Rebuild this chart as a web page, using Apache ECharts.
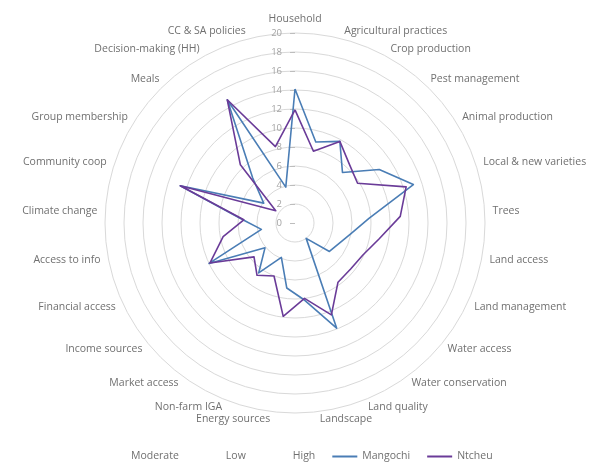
<!DOCTYPE html>
<html>
<head>
<meta charset="utf-8">
<script src="https://cdn.jsdelivr.net/npm/echarts@6/dist/echarts.min.js"></script>
<style>
  html, body { margin: 0; padding: 0; background: #ffffff; }
  #chart { width: 589px; height: 472px; }
</style>
</head>
<body>
<div id="chart"></div>
<script>
// Dimensions, listed clockwise from the top of the radar
const categories = [
  'Household', 'Agricultural practices', 'Crop production', 'Pest management',
  'Animal production', 'Local & new varieties', 'Trees', 'Land access',
  'Land management', 'Water access', 'Water conservation', 'Land quality',
  'Landscape', 'Energy sources', 'Non-farm IGA', 'Market access',
  'Income sources', 'Financial access', 'Access to info', 'Climate change',
  'Community coop', 'Group membership', 'Meals', 'Decision-making (HH)',
  'CC & SA policies'
];

// Scores per district, same order as categories
const mangochi = [
  14.1, 8.8, 9.8, 7.3, 10.5, 13.1, 7.8, 6.0,
  5.1, 4.7, 2.0, 11.9, 8.2, 6.9, 3.9, 6.5,
  4.1, 10.0, 3.6, 5.5, 12.7, 3.9, 6.5, 14.8,
  3.9
];
const ntcheu = [
  11.9, 7.8, 9.8, 8.4, 7.8, 12.3, 11.1, 9.0,
  7.9, 7.6, 7.7, 10.4, 8.0, 9.9, 6.0, 6.8,
  5.6, 9.9, 7.7, 5.4, 12.7, 2.4, 8.4, 14.8,
  8.3
];

// Level classes shown in the legend only
const levelNames = ['Moderate', 'Low', 'High'];

// Radial scale
const scaleMin = 0;
const scaleMax = 20;
const scaleStep = 2;

const FONT = 'Open Sans';
const TEXT_COLOR = '#707070';
const MANGOCHI_COLOR = '#4a7db5';
const NTCHEU_COLOR = '#6a3b98';

// ECharts lays indicators out counter-clockwise, so keep the first one at the
// top and reverse the rest to read clockwise.
const order = [0].concat(categories.slice(1).map((_, i) => categories.length - 1 - i));
const reorder = arr => order.map(i => arr[i]);

const indicator = order.map((idx, k) => {
  const item = { name: categories[idx], min: scaleMin, max: scaleMax };
  if (k === 0) {
    item.axisLabel = {
      show: true,
      color: '#a3a3a3',
      fontFamily: FONT,
      fontSize: 9.5,
      margin: 13,
      showMinLabel: true,
      showMaxLabel: true
    };
    item.axisTick = {
      show: true,
      length: 5,
      lineStyle: { color: '#bdbdbd', width: 1 }
    };
  }
  return item;
});

const chart = echarts.init(document.getElementById('chart'), null, { renderer: 'canvas' });

chart.setOption({
  backgroundColor: '#ffffff',
  animation: false,
  legend: {
    left: 96,
    top: 446,
    itemWidth: 25,
    itemHeight: 2,
    itemGap: 17,
    selectedMode: false,
    textStyle: { color: TEXT_COLOR, fontFamily: FONT, fontSize: 10.5 },
    data: levelNames.map(n => ({ name: n, icon: 'none' })).concat([
      { name: 'Mangochi', icon: 'rect' },
      { name: 'Ntcheu', icon: 'rect' }
    ])
  },
  radar: {
    center: [295, 223],
    radius: 190,
    startAngle: 90,
    shape: 'circle',
    splitNumber: (scaleMax - scaleMin) / scaleStep,
    nameGap: 8,
    axisName: { color: TEXT_COLOR, fontFamily: FONT, fontSize: 10.5 },
    splitLine: { lineStyle: { color: '#d9d9d9', width: 1 } },
    splitArea: { show: false },
    axisLine: { show: false },
    axisTick: { show: false },
    axisLabel: { show: false },
    indicator: indicator
  },
  series: levelNames.map(n => ({
    type: 'radar',
    name: n,
    symbol: 'none',
    itemStyle: { color: 'transparent' },
    data: []
  })).concat([
    {
      type: 'radar',
      name: 'Mangochi',
      symbol: 'none',
      itemStyle: { color: MANGOCHI_COLOR },
      lineStyle: { color: MANGOCHI_COLOR, width: 1.6 },
      data: [{ name: 'Mangochi', value: reorder(mangochi) }]
    },
    {
      type: 'radar',
      name: 'Ntcheu',
      symbol: 'none',
      itemStyle: { color: NTCHEU_COLOR },
      lineStyle: { color: NTCHEU_COLOR, width: 1.6 },
      data: [{ name: 'Ntcheu', value: reorder(ntcheu) }]
    }
  ])
});
</script>
</body>
</html>
